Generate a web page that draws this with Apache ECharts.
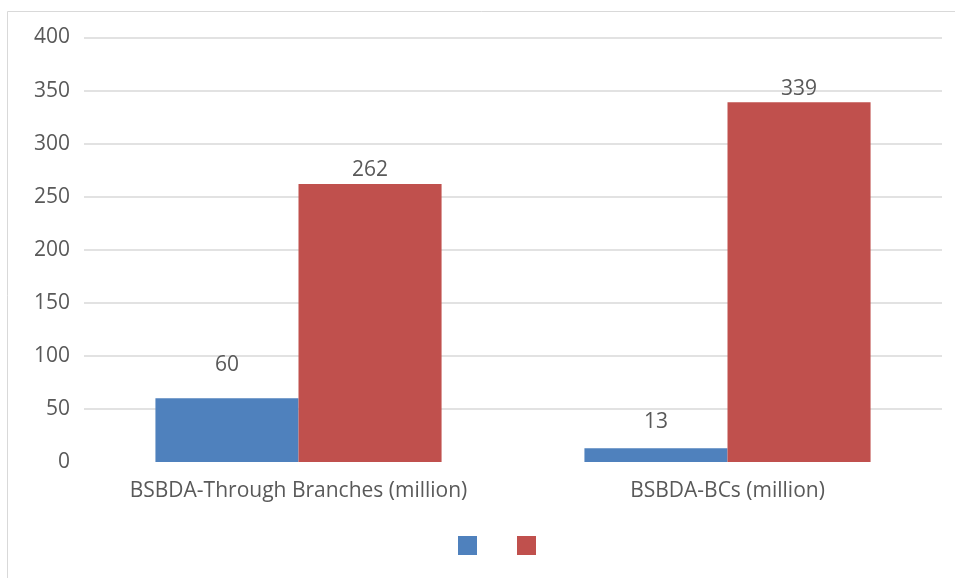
<!DOCTYPE html>
<html>
<head>
<meta charset="utf-8">
<title>BSBDA accounts</title>
<script src="https://cdn.jsdelivr.net/npm/echarts@6/dist/echarts.min.js"></script>
<style>
  html, body { margin: 0; padding: 0; background: #ffffff; }
  #chart { width: 955px; height: 578px; }
</style>
</head>
<body>
<div id="chart"></div>
<script>
// Account categories on the x axis
const categories = ['BSBDA-Through Branches (million)', 'BSBDA-BCs (million)'];
// Two unnamed series (legend shows only colour swatches)
const seriesNames = ['Series 1', 'Series 2'];
const blueValues = [60, 13];
const redValues = [262, 339];
// Value axis range and step
const yMin = 0;
const yMax = 400;
const yStep = 50;

// Label lift above each blue bar (px)
const blueLabelLift = [23, 16];

const FONT = '"Open Sans", "DejaVu Sans", sans-serif';
const TEXT = '#595959';
const FS = 21;

const chart = echarts.init(document.getElementById('chart'), null, { renderer: 'canvas' });

chart.setOption({
  animation: false,
  backgroundColor: '#ffffff',
  textStyle: { fontFamily: FONT },
  graphic: [{
    type: 'rect',
    shape: { x: 7.5, y: 11.5, width: 1000, height: 700 },
    style: { fill: 'none', stroke: '#D9D9D9', lineWidth: 1 },
    silent: true,
    z: -1
  }],
  grid: { left: 84, right: 13, top: 37.5, bottom: 116, containLabel: false },
  legend: {
    left: 453,
    top: 531,
    itemWidth: 19,
    itemHeight: 19,
    itemGap: 40,
    icon: 'rect',
    formatter: () => '',
    textStyle: { fontSize: 1 },
    data: seriesNames
  },
  xAxis: {
    type: 'category',
    data: categories,
    axisLine: { show: false },
    axisTick: { show: false },
    axisLabel: { interval: 0, hideOverlap: false, color: TEXT, fontSize: FS, fontFamily: FONT, margin: 19 }
  },
  yAxis: {
    type: 'value',
    min: yMin,
    max: yMax,
    interval: yStep,
    axisLine: { show: false },
    axisTick: { show: false },
    axisLabel: { color: TEXT, fontSize: FS, fontFamily: FONT, margin: 14 },
    splitLine: { showMinLine: false, lineStyle: { color: '#D9D9D9', width: 1.5 } }
  },
  series: [
    {
      name: seriesNames[0],
      type: 'bar',
      barGap: '0%',
      barCategoryGap: '33.3%',
      itemStyle: { color: '#4F81BD' },
      data: blueValues.map((v, i) => ({
        value: v,
        label: { distance: blueLabelLift[i] }
      })),
      label: { show: true, position: 'top', color: TEXT, fontSize: FS, fontFamily: FONT }
    },
    {
      name: seriesNames[1],
      type: 'bar',
      barGap: '0%',
      barCategoryGap: '33.3%',
      itemStyle: { color: '#C0504D' },
      data: redValues,
      label: { show: true, position: 'top', distance: 3, color: TEXT, fontSize: FS, fontFamily: FONT }
    }
  ]
});
</script>
</body>
</html>
